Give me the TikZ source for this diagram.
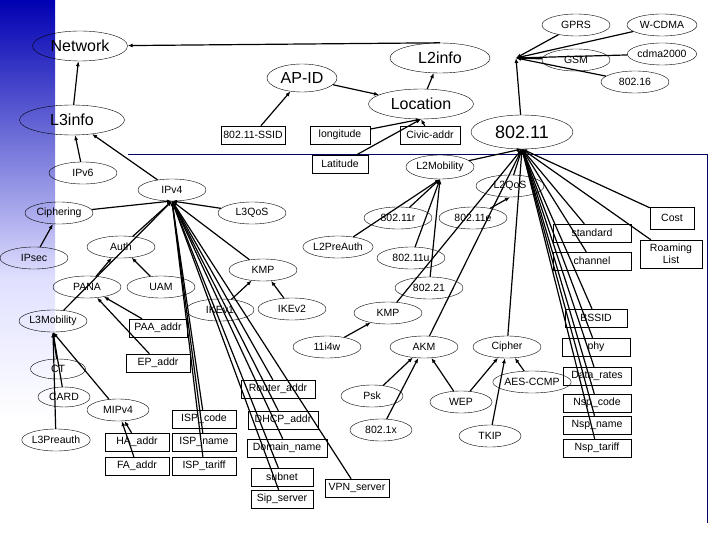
\documentclass[tikz,border=0pt]{standalone}
\usepackage{fontspec}
\setmainfont{Liberation Sans}
\usetikzlibrary{shapes.geometric,arrows.meta}
\begin{document}
\begin{tikzpicture}[x=1pt,y=-1pt,
 el/.style={draw,ellipse,inner sep=0pt,font=\fontsize{10.5}{12}\selectfont},
 bx/.style={draw,rectangle,inner sep=1pt,font=\fontsize{10.5}{12}\selectfont},
 big/.style={font=\fontsize{16}{18}\selectfont},
 ed/.style={line width=1.2pt,-{Latex[length=5pt,width=4pt]}}]
\useasboundingbox (0,0) rectangle (720,540);
\shade[top color=blue!70!black,bottom color=blue!12] (0,0) rectangle (55,280);
\shade[top color=blue!12,bottom color=white] (0,280) rectangle (55,420);
\draw[blue!40!black,line width=1pt] (128,155) -- (707,155) -- (707,523);
% top nodes
\node[el,big,minimum width=95,minimum height=30] (net) at (80,46) {Network};
\node[el,big,minimum width=100,minimum height=30] (l2i) at (440,58) {L2info};
\node[el,big,minimum width=70,minimum height=28] (apid) at (302,78) {AP-ID};
\node[el,big,minimum width=105,minimum height=30] (loc) at (421,104) {Location};
\node[el,big,minimum width=105,minimum height=30] (l3i) at (72,120) {L3info};
\node[el,font=\fontsize{18}{20}\selectfont,minimum width=102,minimum height=34] (w11) at (522,132) {802.11};
\node[el,minimum width=68,minimum height=22] (gprs) at (576,25) {GPRS};
\node[el,minimum width=70,minimum height=22] (wcdma) at (662,25) {W-CDMA};
\node[el,minimum width=68,minimum height=22] (gsm) at (576,60) {GSM};
\node[el,minimum width=68,minimum height=22] (cdma) at (662,54) {cdma2000};
\node[el,minimum width=68,minimum height=22] (w16) at (635,82) {802.16};
\node[bx,minimum width=64,minimum height=18] (ssid) at (253,135) {802.11-SSID};
\node[bx,minimum width=60,minimum height=18] (lon) at (340,135) {longitude};
\node[bx,minimum width=60,minimum height=18] (civ) at (430,135) {Civic-addr};
\node[bx,minimum width=56,minimum height=18] (lat) at (340,164) {Latitude};
\node[el,minimum width=68,minimum height=22] (ipv6) at (83,173) {IPv6};
\node[el,minimum width=68,minimum height=22] (ipv4) at (172,190) {IPv4};
\node[el,minimum width=68,minimum height=24] (l2m) at (440,167) {L2Mobility};
\node[el,minimum width=68,minimum height=22] (l2q) at (510,186) {L2QoS};
\node[el,minimum width=68,minimum height=22] (ciph) at (59,213) {Ciphering};
\node[el,minimum width=68,minimum height=22] (l3q) at (252,213) {L3QoS};
\node[el,minimum width=68,minimum height=22] (r) at (398,218) {802.11r};
\node[el,minimum width=68,minimum height=22] (e) at (473,218) {802.11e};
\node[el,minimum width=68,minimum height=22] (auth) at (121,247) {Auth};
\node[el,minimum width=68,minimum height=22] (ipsec) at (34,258) {IPsec};
\node[el,minimum width=68,minimum height=22] (l2pa) at (338,247) {L2PreAuth};
\node[el,minimum width=68,minimum height=22] (u) at (411,258) {802.11u};
\node[el,minimum width=68,minimum height=22] (kmp) at (263,270) {KMP};
\node[el,minimum width=68,minimum height=22] (pana) at (87,287) {PANA};
\node[el,minimum width=68,minimum height=22] (uam) at (161,287) {UAM};
\node[el,minimum width=68,minimum height=22] (w21) at (429,288) {802.21};
\node[el,minimum width=68,minimum height=22] (ike1) at (220,310) {IKEv1};
\node[el,minimum width=68,minimum height=22] (ike2) at (292,309) {IKEv2};
\node[el,minimum width=68,minimum height=22] (l3m) at (53,321) {L3Mobility};
\node[el,minimum width=68,minimum height=22] (kmp2) at (388,313) {KMP};
\node[el,minimum width=68,minimum height=22] (i4w) at (327,347) {11i4w};
\node[el,minimum width=68,minimum height=22] (akm) at (424,347) {AKM};
\node[el,minimum width=68,minimum height=22] (cip) at (507,347) {Cipher};
\node[el,minimum width=55,minimum height=20] (ct) at (58,369) {CT};
\node[el,minimum width=52,minimum height=20] (card) at (64,397) {CARD};
\node[el,minimum width=62,minimum height=22] (mip) at (118,410) {MIPv4};
\node[el,minimum width=68,minimum height=22] (l3pa) at (56,440) {L3Preauth};
\node[el,minimum width=62,minimum height=22] (psk) at (372,396) {Psk};
\node[el,minimum width=62,minimum height=22] (wep) at (461,402) {WEP};
\node[el,minimum width=68,minimum height=22] (aes) at (532,382) {AES-CCMP};
\node[el,minimum width=62,minimum height=22] (x1) at (381,430) {802.1x};
\node[el,minimum width=62,minimum height=22] (tkip) at (490,436) {TKIP};
\node[bx,minimum width=78,minimum height=18] (std) at (592,233) {standard};
\node[bx,minimum width=78,minimum height=18] (chn) at (592,261) {channel};
\node[bx,minimum width=44,minimum height=22] (cost) at (672,218) {Cost};
\node[bx,minimum width=62,minimum height=28,align=center,font=\fontsize{10.5}{12}\selectfont] (roam) at (671,254) {Roaming\\List};
\node[bx,minimum width=62,minimum height=18] (bssid) at (596,318) {BSSID};
\node[bx,minimum width=68,minimum height=18] (phy) at (596,347) {phy};
\node[bx,minimum width=68,minimum height=18] (dr) at (597,376) {Data\_rates};
\node[bx,minimum width=68,minimum height=18] (nc) at (597,403) {Nsp\_code};
\node[bx,minimum width=68,minimum height=18] (nn) at (597,425) {Nsp\_name};
\node[bx,minimum width=68,minimum height=18] (nt) at (597,448) {Nsp\_tariff};
\node[bx,minimum width=58,minimum height=18] (paa) at (158,328) {PAA\_addr};
\node[bx,minimum width=64,minimum height=18] (ep) at (158,363) {EP\_addr};
\node[bx,minimum width=74,minimum height=18] (ra) at (278,389) {Router\_addr};
\node[bx,minimum width=64,minimum height=18] (ispc) at (204,419) {ISP\_code};
\node[bx,minimum width=64,minimum height=18] (ispn) at (204,442) {ISP\_name};
\node[bx,minimum width=64,minimum height=18] (ispt) at (204,466) {ISP\_tariff};
\node[bx,minimum width=70,minimum height=18] (dhcp) at (283,420) {DHCP\_addr};
\node[bx,minimum width=80,minimum height=18] (dom) at (287,448) {Domain\_name};
\node[bx,minimum width=64,minimum height=18] (ha) at (137,442) {HA\_addr};
\node[bx,minimum width=64,minimum height=18] (fa) at (137,466) {FA\_addr};
\node[bx,minimum width=62,minimum height=18] (sub) at (282,477) {subnet};
\node[bx,minimum width=62,minimum height=18] (sip) at (282,499) {Sip\_server};
\node[bx,minimum width=64,minimum height=18] (vpn) at (357,488) {VPN\_server};
\coordinate (hub) at (516,58);
\coordinate (h4) at (172,201);
\coordinate (h11) at (522,149);
% edges
\draw[ed] (l3i) -- (net);
\draw[ed] (l2i.north) -- (net);
\foreach \n in {gprs,wcdma,gsm,cdma,w16,w11} \draw[ed] (\n) -- (hub);
\draw[ed] (loc) -- (l2i);
\draw[ed] (apid) -- (loc);
\draw[ed] (ssid) -- (apid);
\foreach \n in {lon,civ,lat} \draw[ed] (\n) -- (loc.south);
\draw[ed] (ipv6) -- (l3i);
\draw[ed] (ipv4) -- (l3i);
\foreach \n in {l2m,l2q,kmp2,akm,cip,std,chn,cost,roam,bssid,phy,dr,nc,nn,nt} \draw[ed] (\n) -- (h11);
\foreach \n in {r,u,w21,l2pa} \draw[ed] (\n) -- (l2m.south);
\draw[ed] (e) -- (l2q.south);
\foreach \n in {ciph,l3q,auth,kmp,l3m,ispc,ispn,ispt,ra,dhcp,dom,sub,sip,vpn} \draw[ed] (\n) -- (h4);
\draw[ed] (ipsec) -- (ciph);
\draw[ed] (pana) -- (auth); \draw[ed] (uam) -- (auth);
\draw[ed] (ike1) -- (kmp); \draw[ed] (ike2) -- (kmp);
\draw[ed] (paa) -- (pana); \draw[ed] (ep) -- (pana);
\foreach \n in {ct,card,l3pa,mip} \draw[ed] (\n) -- (l3m.south);
\draw[ed] (ha) -- (mip); \draw[ed] (fa) -- (mip);
\draw[ed] (i4w) -- (kmp2);
\foreach \n in {psk,x1,wep} \draw[ed] (\n) -- (akm);
\foreach \n in {wep,tkip,aes} \draw[ed] (\n) -- (cip);
\end{tikzpicture}
\end{document}
